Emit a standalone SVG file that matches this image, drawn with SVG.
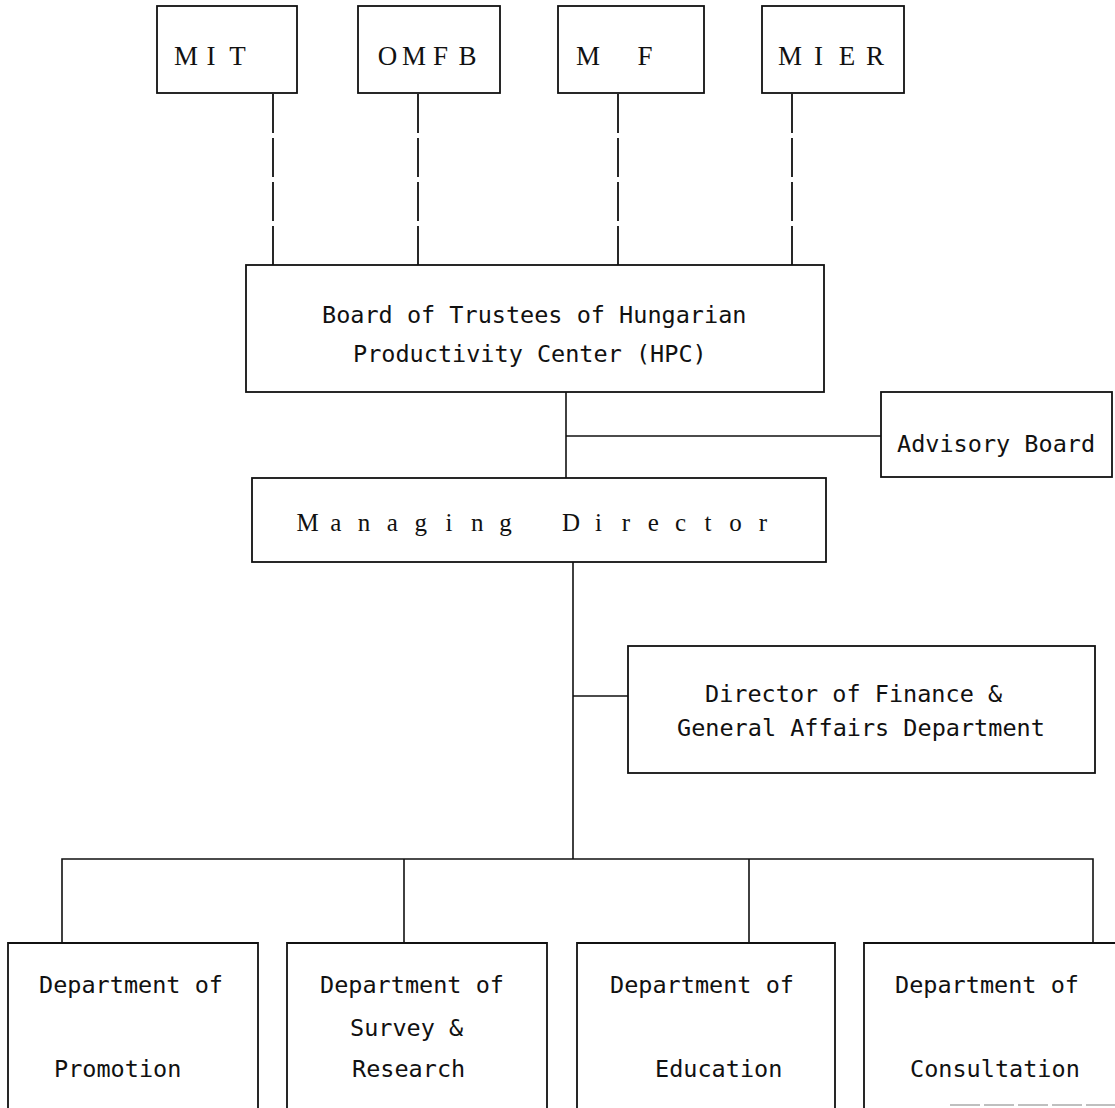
<svg xmlns="http://www.w3.org/2000/svg" width="1115" height="1108" viewBox="0 0 1115 1108">
<style>
.box{fill:#fff;stroke:#111;stroke-width:1.8}
.ln{fill:none;stroke:#111;stroke-width:1.6}
.dash{fill:none;stroke:#111;stroke-width:1.8;stroke-dasharray:39 5}
.serif{font-family:"Liberation Serif","Times New Roman",serif;font-size:27px;fill:#111;text-anchor:middle}
.mdt{font-family:"Liberation Serif","Times New Roman",serif;font-size:25px;fill:#111;text-anchor:middle}
.mono{font-family:"DejaVu Sans Mono","Liberation Mono",monospace;font-size:23.5px;fill:#111}
</style>
<rect width="1115" height="1108" fill="#fff"/>
<g id="connectors">
<line class="dash" x1="273" y1="94" x2="273" y2="265"/>
<line class="dash" x1="418" y1="94" x2="418" y2="265"/>
<line class="dash" x1="618" y1="94" x2="618" y2="265"/>
<line class="dash" x1="792" y1="94" x2="792" y2="265"/>
<line class="ln" x1="566" y1="392" x2="566" y2="478"/>
<line class="ln" x1="566" y1="436" x2="881" y2="436"/>
<line class="ln" x1="573" y1="562" x2="573" y2="859"/>
<line class="ln" x1="573" y1="696" x2="628" y2="696"/>
<polyline class="ln" points="62,943 62,859 1093,859 1093,943"/>
<line class="ln" x1="404" y1="859" x2="404" y2="943"/>
<line class="ln" x1="749" y1="859" x2="749" y2="943"/>
</g>
<g id="node-mit">
<rect class="box" x="157" y="6" width="140" height="87"/>
<text class="serif" x="186 198 211 224 237.5" y="65">M I T</text>
</g>
<g id="node-omfb">
<rect class="box" x="358" y="6" width="142" height="87"/>
<text class="serif" x="387.5 401 414 427 440.5 454 467.5" y="65">O M F B</text>
</g>
<g id="node-mf">
<rect class="box" x="558" y="6" width="146" height="87"/>
<text class="serif" x="588 616 645" y="65">M F</text>
</g>
<g id="node-mier">
<rect class="box" x="762" y="6" width="142" height="87"/>
<text class="serif" x="790 804 818.5 833 847 861 875" y="65">M I E R</text>
</g>
<g id="node-board">
<rect class="box" x="246" y="265" width="578" height="127"/>
<text class="mono" x="322" y="323">Board of Trustees of Hungarian</text>
<text class="mono" x="353" y="362">Productivity Center (HPC)</text>
</g>
<g id="node-advisory">
<rect class="box" x="881" y="392" width="231" height="85"/>
<text class="mono" x="897" y="452">Advisory Board</text>
</g>
<g id="node-md">
<rect class="box" x="252" y="478" width="574" height="84"/>
<text class="mdt" x="307.5 335.8 364.1 392.4 420.7 449 477.3 505.6 538 571 598.4 625.8 653.2 680.6 708 735.4 762.8" y="531">Managing Director</text>
</g>
<g id="node-finance">
<rect class="box" x="628" y="646" width="467" height="127"/>
<text class="mono" x="705" y="702">Director of Finance &amp;</text>
<text class="mono" x="677" y="736">General Affairs Department</text>
</g>
<g id="node-promotion">
<polyline class="box" points="8,1108 8,943 258,943 258,1108"/>
<text class="mono" x="39" y="993">Department of</text>
<text class="mono" x="54" y="1077">Promotion</text>
</g>
<g id="node-survey">
<polyline class="box" points="287,1108 287,943 547,943 547,1108"/>
<text class="mono" x="320" y="993">Department of</text>
<text class="mono" x="350" y="1036">Survey &amp;</text>
<text class="mono" x="352" y="1077">Research</text>
</g>
<g id="node-education">
<polyline class="box" points="577,1108 577,943 835,943 835,1108"/>
<text class="mono" x="610" y="993">Department of</text>
<text class="mono" x="655" y="1077">Education</text>
</g>
<g id="node-consultation">
<polyline class="box" points="864,1108 864,943 1115,943"/>
<line x1="950" y1="1105" x2="1115" y2="1105" stroke="#aaa" stroke-width="1.5" stroke-dasharray="30 4"/>
<text class="mono" x="895" y="993">Department of</text>
<text class="mono" x="910" y="1077">Consultation</text>
</g>
</svg>
